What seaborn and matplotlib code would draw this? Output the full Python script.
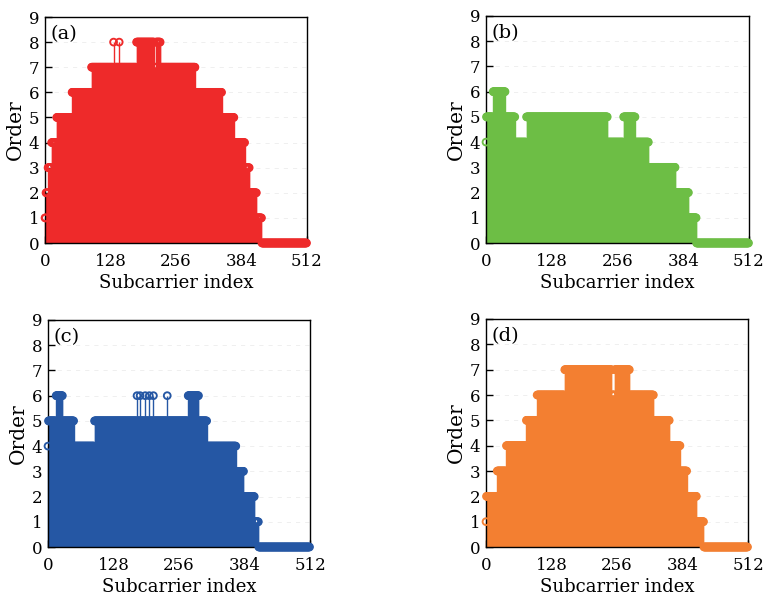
import numpy as np
import pandas as pd
import matplotlib
matplotlib.use("Agg")
import matplotlib.pyplot as plt
import seaborn as sns
from matplotlib.ticker import MultipleLocator, FixedLocator

N = 512

# Panel (a): start index of each constant segment and its order
a_starts = [0, 2, 6, 13, 23, 53, 91, 179, 214, 217, 226, 294, 346, 370, 391, 400, 414, 424]
a_orders = [1, 2, 3, 4, 5, 6, 7, 8, 7, 8, 7, 6, 5, 4, 3, 2, 1, 0]
a_spike_idx = [134, 145]
a_spike_val = [8, 8]

# Panel (b)
b_starts = [0, 1, 14, 38, 57, 79, 237, 268, 291, 317, 369, 395, 410]
b_orders = [4, 5, 6, 5, 4, 5, 4, 5, 4, 3, 2, 1, 0]
b_spike_idx = []
b_spike_val = []

# Panel (c)
c_starts = [0, 1, 16, 29, 51, 91, 274, 295, 311, 368, 383, 404, 412]
c_orders = [4, 5, 6, 5, 4, 5, 6, 5, 4, 3, 2, 1, 0]
c_spike_idx = [174, 180, 190, 198, 206, 233]
c_spike_val = [6, 6, 6, 6, 6, 6]

# Panel (d)
d_starts = [0, 1, 22, 40, 79, 100, 154, 246, 252, 281, 328, 359, 380, 393, 412, 426]
d_orders = [1, 2, 3, 4, 5, 6, 7, 6, 7, 6, 5, 4, 3, 2, 1, 0]
d_spike_idx = []
d_spike_val = []

panel_labels = ["(a)", "(b)", "(c)", "(d)"]
colors = ["#EE2A2A", "#6DBE45", "#2557A4", "#F37F31"]
x_ticks = [0, 128, 256, 384, 512]
y_ticks = list(range(0, 10))


def expand(starts, orders, spike_idx, spike_val):
    lengths = np.diff(starts + [N])
    y = np.repeat(orders, lengths).astype(float)
    for i, v in zip(spike_idx, spike_val):
        y[i] = v
    return y


series = [
    expand(a_starts, a_orders, a_spike_idx, a_spike_val),
    expand(b_starts, b_orders, b_spike_idx, b_spike_val),
    expand(c_starts, c_orders, c_spike_idx, c_spike_val),
    expand(d_starts, d_orders, d_spike_idx, d_spike_val),
]

sns.set_theme(style="white")
plt.rcParams["font.family"] = ["DejaVu Serif"]
plt.rcParams["mathtext.fontset"] = "dejavuserif"

W, H = 766, 595
fig = plt.figure(figsize=(W / 100, H / 100), dpi=100)

# axes boxes in pixels: left, top, right, bottom
boxes = [(45, 17, 307, 243), (486, 16, 749, 243), (48, 320, 310, 547), (486, 319, 748, 547)]

idx = np.arange(N)
for k, (box, y, col, lab) in enumerate(zip(boxes, series, colors, panel_labels)):
    l, t, r, b = box
    ax = fig.add_axes([l / W, 1 - b / H, (r - l) / W, (b - t) / H])
    df = pd.DataFrame({"idx": idx, "order": y})
    ax.vlines(df["idx"], 0, df["order"], color=col, lw=1.0, zorder=2, clip_on=False)
    sns.scatterplot(data=df, x="idx", y="order", ax=ax, marker="o", s=24,
                    facecolors="none", edgecolor=col, linewidth=1.35,
                    zorder=7, clip_on=False, legend=False)
    ax.set_xlim(0, 512)
    ax.set_ylim(0, 9)
    ax.xaxis.set_major_locator(FixedLocator(x_ticks))
    ax.xaxis.set_minor_locator(MultipleLocator(64))
    ax.yaxis.set_major_locator(FixedLocator(y_ticks))
    ax.tick_params(axis="x", which="major", direction="in", length=5, width=1.0,
                   color="black", labelsize=12, pad=7, top=False, bottom=True)
    ax.tick_params(axis="y", which="major", direction="in", length=5, width=1.0,
                   color="black", labelsize=12, pad=4, right=False, left=True)
    ax.tick_params(axis="x", which="minor", direction="in", length=2.5, width=0.6,
                   color="#999999", top=False, bottom=True)
    ax.grid(axis="y", color="#ececec", lw=0.6, ls=(0, (5, 6)), zorder=0)
    ax.set_axisbelow(True)
    for sp in ax.spines.values():
        sp.set_color("black")
        sp.set_linewidth(1.0)
        sp.set_zorder(5)
    ax.set_xlabel("Subcarrier index", fontsize=13, labelpad=3, color="black")
    ax.set_ylabel("Order", fontsize=14.5, labelpad=3, color="black")
    ax.tick_params(labelcolor="black")
    ax.text(0.02, 0.965, lab, transform=ax.transAxes, ha="left", va="top",
            fontsize=14, color="black", zorder=6)

fig.savefig("out.png", dpi=100)
